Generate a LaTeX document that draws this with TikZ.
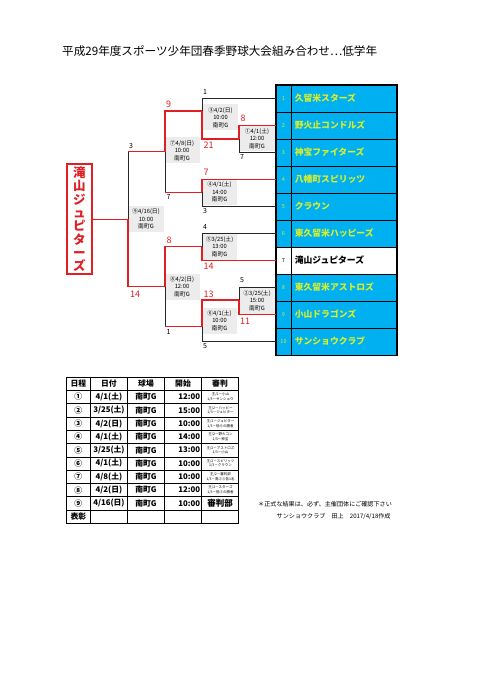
\documentclass[tikz,border=0pt]{standalone}
\usepackage{fontspec}
\setmainfont{Noto Sans CJK JP}
\definecolor{rd}{RGB}{225,30,35}
\definecolor{tblue}{RGB}{0,176,240}
\definecolor{tyel}{RGB}{215,238,45}
\definecolor{infogray}{RGB}{236,236,236}
\newcommand\fsz[2]{\fontsize{#1}{#2}\selectfont}
\tikzset{
  wl/.style={draw=rd,line width=1.3pt,line join=miter},
  ll/.style={draw=black!85,line width=0.7pt},
  numcell/.style={draw=black,line width=0.8pt,fill=tblue,minimum width=15pt,minimum height=27pt,inner sep=0pt,text=tyel,font=\fsz{5.5}{6}},
  namecell/.style={draw=black,line width=0.8pt,fill=tblue,text width=99pt,inner xsep=3pt,inner ysep=0pt,minimum height=27pt,align=left,text=tyel,font=\bfseries\fsz{8.8}{10}},
  info/.style={fill=infogray,minimum width=35pt,minimum height=26pt,inner sep=0pt,align=center,font=\fsz{5.8}{7.6}},
  score/.style={text=rd,inner sep=0pt,font=\fsz{9}{9}},
  seed/.style={text=black,inner sep=0pt,font=\fsz{7}{7}},
  champ/.style={draw=rd,line width=2pt,minimum width=24.7pt,minimum height=110pt,inner sep=0pt,align=center,text=rd,font=\bfseries\fsz{12.5}{13.3}},
  tcell/.style={inner sep=0pt,font=\bfseries\fsz{7.8}{8}},
  refc/.style={inner sep=0pt,align=center,font=\fsz{3.5}{4.6}},
  tline/.style={draw=black,line width=0.6pt},
  note/.style={inner sep=0pt,anchor=west,font=\fsz{6.1}{7}}
}
\newcommand\mytrow[6]{%
  \pgfmathsetmacro\yy{377+13.3*(#1+0.5)}
  \node[tcell] (r#1c1) at (78.3,\yy) {#2};
  \node[tcell] (r#1c2) at (108.9,\yy) {#3};
  \node[tcell] (r#1c3) at (146,\yy) {南町G};
  \node[tcell,anchor=east] (r#1c4) at (200.2,\yy) {#4};
  \node[refc] (r#1c5) at (220.5,\yy) {#5\\#6};
}
\begin{document}
\begin{tikzpicture}[x=1pt,y=-1pt]
\useasboundingbox (0,0) rectangle (480,679);
\fill[white] (0,0) rectangle (480,679);

% title
\node[inner sep=0pt,anchor=west,font=\fsz{11.6}{12}] (title) at (62,51) {平成29年度スポーツ少年団春季野球大会組み合わせ…低学年};

% team list
\foreach \i/\nm in {1/久留米スターズ,2/野火止コンドルズ,3/神宝ファイターズ,4/八幡町スピリッツ,5/クラウン,6/東久留米ハッピーズ,8/東久留米アストロズ,9/小山ドラゴンズ,10/サンショウクラブ}{
  \node[numcell] (n\i) at (283.5,{98.5+27*(\i-1)}) {\i};
  \node[namecell,anchor=west] (t\i) at (n\i.east) {\nm};
}
\node[numcell,fill=white,text=black] (n7) at (283.5,260.5) {7};
\node[namecell,anchor=west,fill=white,text=black] (t7) at (n7.east) {滝山ジュピターズ};
\draw[draw=black,line width=1pt] (n1.north west) rectangle (t10.south east);

% info boxes
\node[info] (i3) at (220.5,117.5) {③4/2(日)\\10:00\\南町G};
\node[info] (i1) at (257,138.5) {①4/1(土)\\12:00\\南町G};
\node[info] (i7) at (182,150.5) {⑦4/8(日)\\10:00\\南町G};
\node[info] (i4) at (219.5,192) {④4/1(土)\\14:00\\南町G};
\node[info] (i9) at (146,219) {⑨4/16(日)\\10:00\\南町G};
\node[info] (i5) at (219.5,246.5) {⑤3/25(土)\\13:00\\南町G};
\node[info] (i8) at (182,286.5) {⑧4/2(日)\\12:00\\南町G};
\node[info] (i2) at (257,300.5) {②3/25(土)\\15:00\\南町G};
\node[info] (i6) at (219.5,320.5) {⑥4/1(土)\\10:00\\南町G};

% champion box
\node[champ] (champ) at (79.3,219.3) {滝\\山\\ジ\\ュ\\ピ\\タ\\ー\\ズ};

% bracket coordinates
\coordinate (a1) at (239,125.5); \coordinate (j1) at (239,139); \coordinate (b1) at (239,152.5);
\coordinate (a3) at (202,98.5); \coordinate (j3) at (202,111); \coordinate (b3) at (202,139);
\coordinate (a4) at (202,179.5); \coordinate (j4) at (202,192.3); \coordinate (b4) at (202,206.5);
\coordinate (a7) at (165,111); \coordinate (j7) at (165,151.7); \coordinate (b7) at (165,192.3);
\coordinate (a5) at (202,233.5); \coordinate (j5) at (202,246.7); \coordinate (b5) at (202,260.5);
\coordinate (a2) at (239,287.5); \coordinate (j2) at (239,300); \coordinate (b2) at (239,314.5);
\coordinate (a6) at (202,300); \coordinate (j6) at (202,326.7); \coordinate (b6) at (202,341.5);
\coordinate (a8) at (165,246.7); \coordinate (j8) at (165,286.7); \coordinate (b8) at (165,326.7);
\coordinate (a9) at (128,151.7); \coordinate (j9) at (128,219.3); \coordinate (b9) at (128,286.7);

% losing (black) lines
\draw[ll] (j1) -- (b1) -- (n3.west);
\draw[ll] (n1.west) -- (a3) -- (j3);
\draw[ll] (j4) -- (b4) -- (n5.west);
\draw[ll] (j7) -- (b7);
\draw[ll] (n6.west) -- (a5) -- (j5);
\draw[ll] (n8.west) -- (a2) -- (j2);
\draw[ll] (j6) -- (b6) -- (n10.west);
\draw[ll] (j8) -- (b8);
\draw[ll] (a9) -- (j9);
% winning (red) lines
\draw[wl] (n2.west) -- (a1) -- (j1);
\draw[wl] (j3) -- (b3) -- (j1);
\draw[wl] (n4.west) -- (a4) -- (j4);
\draw[wl] (j3) -- (a7) -- (j7);
\draw[wl] (b7) -- (j4);
\draw[wl] (j5) -- (b5) -- (n7.west);
\draw[wl] (j2) -- (b2) -- (n9.west);
\draw[wl] (j2) -- (a6) -- (j6);
\draw[wl] (j5) -- (a8) -- (j8);
\draw[wl] (b8) -- (j6);
\draw[wl] (j7) -- (a9);
\draw[wl] (j9) -- (b9) -- (j8);
\draw[wl] (j9) -- (champ.east);

% score / seed labels
\node[seed] (s1) at (205,92) {1};
\node[score] (s2) at (243,118.5) {8};
\node[score] (s3) at (208.5,145.5) {21};
\node[seed] (s4) at (242,157) {7};
\node[score] (s5) at (168.5,104.5) {9};
\node[seed] (s6) at (131,146) {3};
\node[score] (s7) at (206,172.5) {7};
\node[seed] (s8) at (168.5,197) {7};
\node[seed] (s9) at (205,211.5) {3};
\node[seed] (s10) at (205,227) {4};
\node[score] (s11) at (169,240) {8};
\node[score] (s12) at (208.5,266) {14};
\node[score] (s13) at (135,294) {14};
\node[seed] (s14) at (242,280.5) {5};
\node[score] (s15) at (208.5,294) {13};
\node[score] (s16) at (245,321) {11};
\node[seed] (s17) at (168.5,332) {1};
\node[seed] (s18) at (205,346.5) {5};

% schedule table
\foreach \k in {1,...,10}{\draw[tline] (66.7,{377+13.3*\k}) -- (238.3,{377+13.3*\k});}
\foreach \x in {90,127.7,164.3,201.7}{\draw[tline] (\x,377) -- (\x,523.3);}
\draw[draw=black,line width=1pt] (66.7,377) rectangle (238.3,523.3);
\node[tcell] (h1) at (78.3,383.6) {日程};
\node[tcell] (h2) at (108.9,383.6) {日付};
\node[tcell] (h3) at (146,383.6) {球場};
\node[tcell] (h4) at (183,383.6) {開始};
\node[tcell] (h5) at (220,383.6) {審判};
\mytrow{1}{①}{4/1(土)}{12:00}{主/2－小山}{1/3－サンショウ}
\mytrow{2}{②}{3/25(土)}{15:00}{主/2－ハッピー}{1/3－ジュピター}
\mytrow{3}{③}{4/2(日)}{10:00}{主/2－ジュピター}{1/3－低⑥の勝者}
\mytrow{4}{④}{4/1(土)}{14:00}{主/2－野火コン}{1/3－神宝}
\mytrow{5}{⑤}{3/25(土)}{13:00}{主/2－アストロズ}{1/3－小山}
\mytrow{6}{⑥}{4/1(土)}{10:00}{主/2－スピリッツ}{1/3－クラウン}
\mytrow{7}{⑦}{4/8(土)}{10:00}{主/2－審判部}{1/3－高②③各1名}
\mytrow{8}{⑧}{4/2(日)}{12:00}{主/2－スターズ}{1/3－低③の勝者}
\node[tcell] (r9c1) at (78.3,503.5) {⑨};
\node[tcell] (r9c2) at (108.9,503.5) {4/16(日)};
\node[tcell] (r9c3) at (146,503.5) {南町G};
\node[tcell,anchor=east] (r9c4) at (200.2,503.5) {10:00};
\node[tcell,font=\bfseries\fsz{8.5}{9}] (r9c5) at (220,503.5) {審判部};
\node[tcell] (r10c1) at (78.3,516.7) {表彰};

% notes
\node[note] (note1) at (258,504) {＊正式な結果は、必ず、主催団体にご確認下さい};
\node[note] (note2) at (276.5,516) {サンショウクラブ　田上　2017/4/18作成};
\end{tikzpicture}
\end{document}
